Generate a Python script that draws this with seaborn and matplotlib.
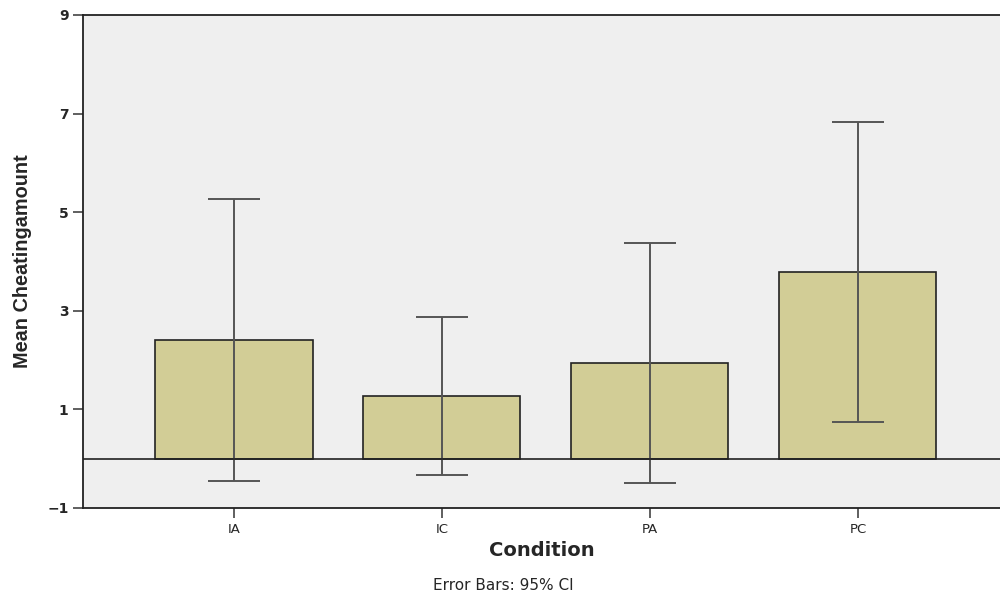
import seaborn as sns
import matplotlib.pyplot as plt
import pandas as pd

conditions = ['IA', 'IC', 'PA', 'PC']
mean_cheating = [2.41, 1.28, 1.95, 3.79]
ci_lower = [-0.45, -0.33, -0.50, 0.74]
ci_upper = [5.27, 2.88, 4.38, 6.82]

df = pd.DataFrame({'Condition': conditions, 'Mean': mean_cheating})

sns.set_style('ticks')
plt.rcParams['font.family'] = ['DejaVu Sans']

fig = plt.figure(figsize=(10, 5.96), dpi=100)
ax = fig.add_axes([0.083, 0.1477, 0.917, 0.8272])
ax.set_facecolor('#efefef')

sns.barplot(data=df, x='Condition', y='Mean', color='#d2cd96', errorbar=None,
            width=0.755, edgecolor='#222222', linewidth=1.2, saturation=1, ax=ax)

err_low = [m - lo for m, lo in zip(mean_cheating, ci_lower)]
err_high = [hi - m for m, hi in zip(mean_cheating, ci_upper)]
ax.errorbar(range(len(conditions)), mean_cheating, yerr=[err_low, err_high],
            fmt='none', ecolor='#555555', elinewidth=1.4, capsize=18.7, capthick=1.4)

ax.axhline(0, color='#222222', linewidth=1.2)

ax.set_xlim(-0.726, 3.683)
ax.set_ylim(-1, 9)
ax.set_yticks([-1, 1, 3, 5, 7, 9])
ax.set_yticklabels(['\u22121', '1', '3', '5', '7', '9'])
ax.tick_params(axis='y', length=7, width=1.2, labelsize=10, color='#444444')
ax.tick_params(axis='x', length=7, width=1.2, labelsize=9.5, color='#444444')
for lbl in ax.get_yticklabels():
    lbl.set_fontweight('bold')

for side in ['left', 'bottom', 'top']:
    ax.spines[side].set_color('#222222')
    ax.spines[side].set_linewidth(1.3)
ax.spines['right'].set_visible(False)

ax.set_xlabel('Condition', fontsize=14, fontweight='bold', labelpad=4)
ax.set_ylabel('Mean Cheatingamount', fontsize=14.3, fontweight='bold',
              family=['Liberation Sans', 'DejaVu Sans'], labelpad=11)

fig.text(0.503, 0.005, 'Error Bars: 95% CI', ha='center', va='bottom', fontsize=11)

fig.savefig('out.png', dpi=100)
